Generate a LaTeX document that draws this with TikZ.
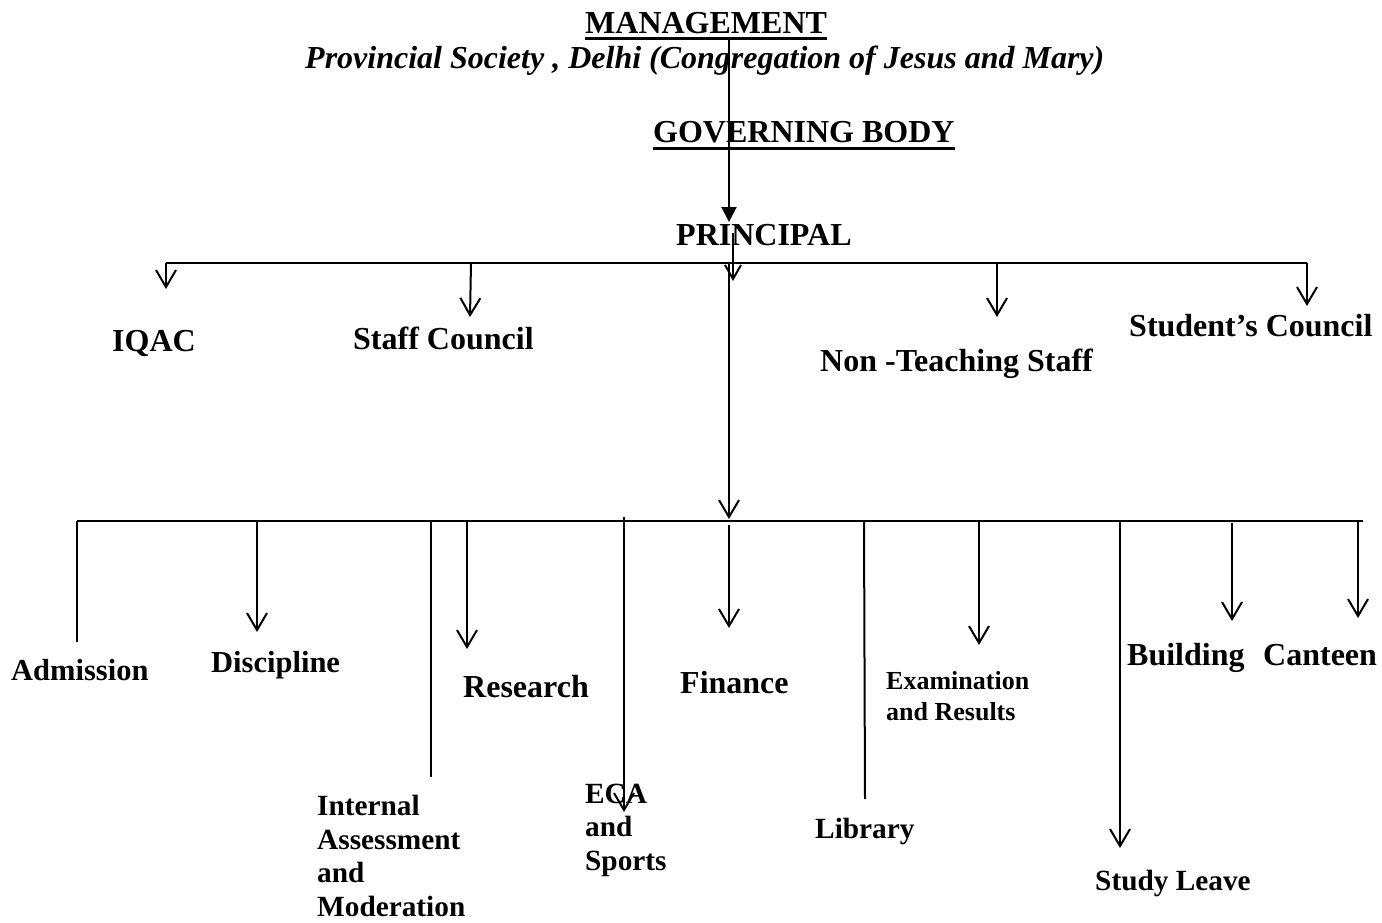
\documentclass[tikz,border=0pt]{standalone}
\usepackage{fontspec}
\setmainfont{Liberation Serif}
\usetikzlibrary{arrows.meta}
\tikzset{
  lbl/.style={inner sep=0pt, anchor=base west, font=\bfseries\fontsize{32}{36}\selectfont},
  mid/.style={font=\bfseries\fontsize{30.5}{34}\selectfont},
  small/.style={font=\bfseries\fontsize{29.3}{33.5}\selectfont, align=left},
  tiny/.style={font=\bfseries\fontsize{26}{30.5}\selectfont, align=left},
  ln/.style={line width=2pt},
  ul/.style={line width=3pt},
  arr/.style={ln, -{Straight Barb[length=17pt,width=20pt,line width=2pt]}},
  sarr/.style={ln, -{Straight Barb[length=14pt,width=16pt,line width=2pt]}},
  farr/.style={ln, -{Triangle[length=15pt,width=15pt]}}
}
\begin{document}
\begin{tikzpicture}[x=1pt,y=-1pt]
\useasboundingbox (0,0) rectangle (1382,922);
% texts
\node[lbl] (mg) at (585,33) {MANAGEMENT};
\node[lbl,font=\bfseries\itshape\fontsize{32}{36}\selectfont] (prov) at (305,68) {Provincial Society , Delhi (Congregation of Jesus and Mary)};
\node[lbl] (gb) at (653,142) {GOVERNING BODY};
\node[lbl] (pr) at (676,245) {PRINCIPAL};
\node[lbl] (iqac) at (112,351) {IQAC};
\node[lbl] (staff) at (353,349) {Staff Council};
\node[lbl] (nts) at (820,371) {Non -Teaching Staff};
\node[lbl] (stc) at (1129,336) {Student’s Council};
\node[lbl,mid] (adm) at (11,680) {Admission};
\node[lbl,mid] (disc) at (211,672) {Discipline};
\node[lbl] (res) at (463,697) {Research};
\node[lbl] (fin) at (680,693) {Finance};
\node[lbl,tiny] (exam) at (886,720) {Examination\\and Results};
\node[lbl] (bld) at (1127,665) {Building};
\node[lbl] (cant) at (1263,665) {Canteen};
\node[lbl,small] (ia) at (317,916) {Internal\\Assessment\\and\\Moderation};
\node[lbl,small] (eca) at (585,870) {ECA\\and\\Sports};
\node[lbl,small] (lib) at (815,838) {Library};
\node[lbl,small] (sl) at (1095,890) {Study Leave};
% underlines
\draw[ul] ([yshift=-5pt]mg.base west) -- ([yshift=-5pt]mg.base east);
\draw[ul] ([yshift=-6pt]gb.base west) -- ([yshift=-6pt]gb.base east);
% coordinates
\coordinate (m0) at (729,38);
\coordinate (m1) at (729,222);
\coordinate (p0) at (733,233);
\coordinate (p1) at (733,281);
\coordinate (tL) at (166,263);
\coordinate (tR) at (1307,263);
\coordinate (tS) at (471,263);
\coordinate (tN) at (997,263);
\coordinate (tM) at (729,263);
\coordinate (aI) at (166,289);
\coordinate (aS) at (470,317);
\coordinate (aN) at (997,317);
\coordinate (aT) at (1307,306);
\coordinate (bM) at (729,519);
\coordinate (bL) at (77,521);
\coordinate (bR) at (1363,521);
\coordinate (bD) at (257,521);
\coordinate (bI) at (431,521);
\coordinate (bRe) at (467,521);
\coordinate (bE) at (624,517);
\coordinate (bF) at (729,525);
\coordinate (bLi) at (864,521);
\coordinate (bX) at (979,521);
\coordinate (bSt) at (1120,521);
\coordinate (bB) at (1232,523);
\coordinate (bC) at (1358,521);
\coordinate (eA) at (77,642);
\coordinate (eD) at (257,632);
\coordinate (eI) at (431,777);
\coordinate (eRe) at (467,649);
\coordinate (eE) at (624,812);
\coordinate (eF) at (729,628);
\coordinate (eLi) at (865,799);
\coordinate (eX) at (979,645);
\coordinate (eSt) at (1120,848);
\coordinate (eB) at (1232,621);
\coordinate (eC) at (1358,618);
% connectors
\draw[farr] (m0) -- (m1);
\draw[sarr] (p0) -- (p1);
\draw[ln] (tL) -- (tR);
\draw[arr] (tL) -- (aI);
\draw[arr] (tS) -- (aS);
\draw[arr] (tN) -- (aN);
\draw[arr] (tR) -- (aT);
\draw[arr] (tM) -- (bM);
\draw[ln] (bL) -- (bR);
\draw[ln] (bL) -- (eA);
\draw[arr] (bD) -- (eD);
\draw[ln] (bI) -- (eI);
\draw[arr] (bRe) -- (eRe);
\draw[arr] (bE) -- (eE);
\draw[arr] (bF) -- (eF);
\draw[ln] (bLi) -- (eLi);
\draw[arr] (bX) -- (eX);
\draw[arr] (bSt) -- (eSt);
\draw[arr] (bB) -- (eB);
\draw[arr] (bC) -- (eC);
\end{tikzpicture}
\end{document}
